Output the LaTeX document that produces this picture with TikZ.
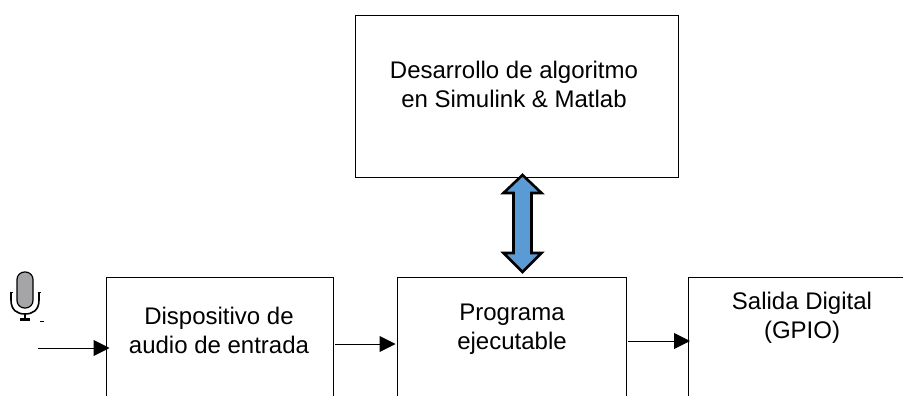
\documentclass[tikz,border=0pt]{standalone}
\usepackage{fontspec}
\setmainfont{Liberation Sans}
\usetikzlibrary{arrows.meta}
\tikzset{
  x=1pt,y=-1pt,
  blockbox/.style={draw=black,line width=1.1pt,minimum width=#1,inner sep=0pt,anchor=north west,minimum height=160pt},
  lbl/.style={align=center,font=\fontsize{24pt}{29pt}\selectfont,inner sep=0pt,text=black},
  flow/.style={draw=black,line width=1pt,-{Triangle[length=16pt,width=16pt]}}
}
\definecolor{dblue}{HTML}{5B9BD5}
\definecolor{micgray}{HTML}{A5A5A8}
\begin{document}
\begin{tikzpicture}
\useasboundingbox (0,0) rectangle (903,396);
\clip (0,0) rectangle (903,396);
\node[blockbox=323pt,minimum height=162pt] (top) at (355,15) {};
\node[blockbox=227pt] (audio) at (106,277) {};
\node[blockbox=229pt] (prog) at (397,277) {};
\node[blockbox=240pt] (out) at (688,277) {};
\node[lbl] (t1) at (514,84) {Desarrollo de algoritmo\\en Simulink \& Matlab};
\node[lbl] (t2) at (219,330) {Dispositivo de\\audio de entrada};
\node[lbl] (t3) at (512,329) {Programa\\ejecutable};
\node[lbl] (t4) at (802,318) {Salida Digital\\(GPIO)};
\coordinate (in) at (38,348);
\coordinate (a1) at (335,344);
\coordinate (a2) at (628,341);
\draw[flow,shorten >=-3.5pt] (in) -- (in -| audio.west);
\draw[flow,shorten >=1.5pt] (a1) -- (a1 -| prog.west);
\draw[flow,shorten >=-2pt] (a2) -- (a2 -| out.west);
\path[draw=black,line width=2.6pt,fill=dblue,line join=miter]
  (522.5,175) -- (541.5,193) -- (531.5,193) -- (531.5,253) -- (541.5,253) -- (522.5,272)
  -- (503.5,253) -- (513.5,253) -- (513.5,193) -- (503.5,193) -- cycle;
% microphone
\path[draw=black,line width=1.2pt,fill=micgray,rounded corners=7.5pt] (17,272) rectangle (33,308);
\draw[black,line width=1.6pt] (11,292) -- (11,300) .. controls (11,310) and (17,314) .. (25,314)
  .. controls (33,314) and (39,310) .. (39,300) -- (39,292);
\draw[black,line width=1pt] (9.5,292) -- (12.5,292) (37.5,292) -- (40.5,292);
\draw[black,line width=2.2pt] (25,314) -- (25,320);
\fill[black] (20,318) rectangle (30,321);
\fill[black] (40,320.5) rectangle (44,321.5);
\end{tikzpicture}
\end{document}
